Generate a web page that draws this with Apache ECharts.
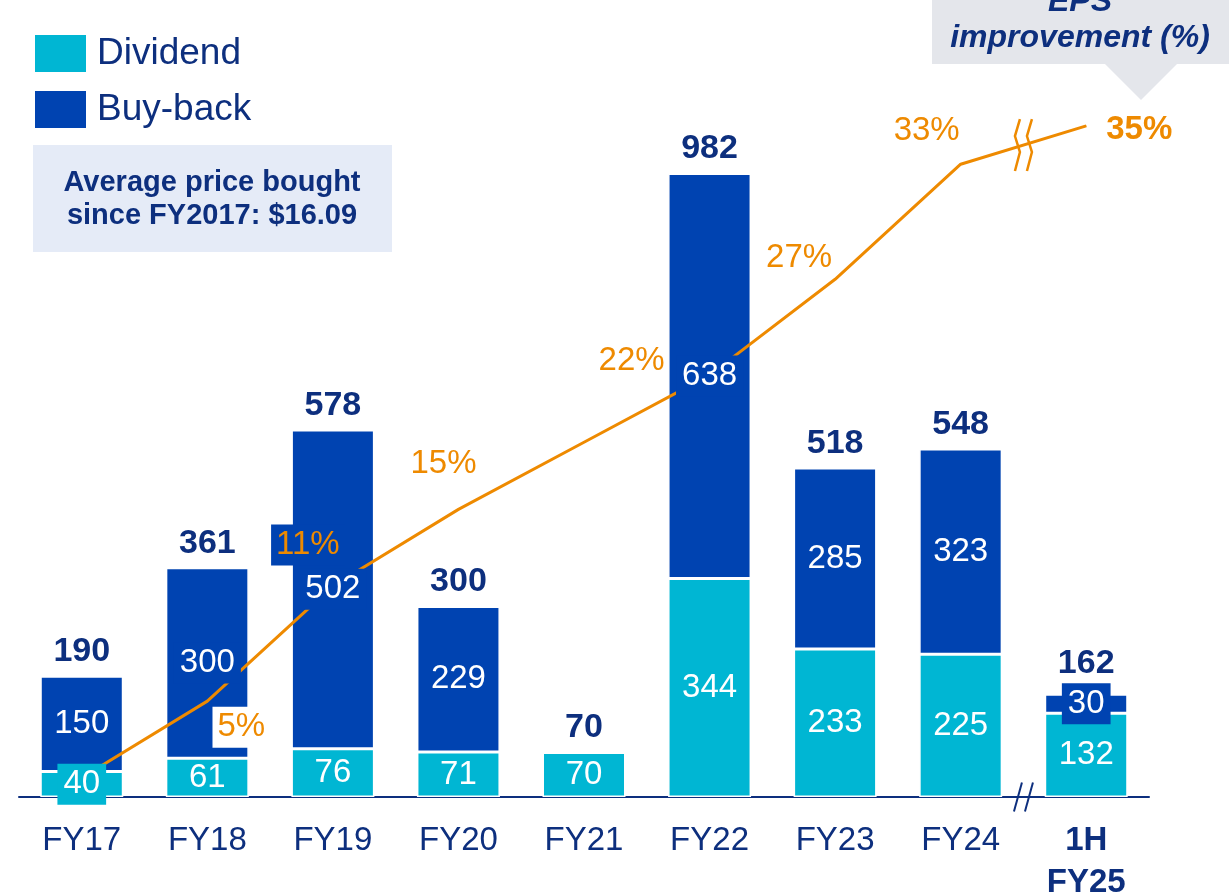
<!DOCTYPE html>
<html>
<head>
<meta charset="utf-8">
<script src="https://cdn.jsdelivr.net/npm/echarts@6/dist/echarts.min.js"></script>
<style>html,body{margin:0;padding:0;background:#fff}#main{width:1229px;height:892px}</style>
</head>
<body>
<div id="main"></div>
<script>
// ---- data ----
const categories = ['FY17','FY18','FY19','FY20','FY21','FY22','FY23','FY24','1H FY25'];
const dividend = [40, 61, 76, 71, 70, 344, 233, 225, 132];
const buyback = [150, 300, 502, 229, 0, 638, 285, 323, 30];
const epsImprovement = [1, 5, 11, 15, 18.5, 22, 27, 33, 35];
const epsLabelShown = [false, true, true, true, false, true, true, true, true];
const legendNames = ['Dividend', 'Buy-back'];
const infoText = 'Average price bought\nsince FY2017: $16.09';
const calloutLines = ['EPS', 'improvement (%)'];

// ---- styles ----
const FONT = '"Liberation Sans", Arial, sans-serif';
const CYAN = '#00B6D3';
const BLUE = '#0043B1';
const NAVY = '#0D2F7E';
const ORANGE = '#EE8A00';
const totals = dividend.map((d, i) => d + buyback[i]);

// label placement styles for the EPS line (offsets from point)
const epsLabelStyle = [
  {},
  {offset: [34, 26], backgroundColor: '#fff', padding: [4, 5]},
  {offset: [-25, -41], backgroundColor: BLUE, padding: [4, 5]},
  {offset: [-15, -45]},
  {},
  {offset: [-78, -14]},
  {offset: [-36, -21]},
  {offset: [-34, -33]},
  {offset: [53, 4], fontWeight: 'bold'}
];
const totalOffset = [0,0,0,0,0,0,0,0,-6];
// which in-bar labels carry a solid backing box
const divLabelBox = [true, false, false, false, false, false, false, false, false];
const bbLabelBox = [false, true, true, false, false, true, false, false, true];

const chart = echarts.init(document.getElementById('main'));

const barW = 83;
const inLabel = (bg, boxed) => ({
  show: true, position: 'inside', color: '#fff', fontSize: 33, fontFamily: FONT,
  backgroundColor: boxed ? bg : 'transparent', padding: [4, 6]
});

const option = {
  animation: false,
  textStyle: {fontFamily: FONT},
  grid: [
    {left: 19, right: 80, top: 162, bottom: 95, outerBoundsMode: 'none', containLabel: false},
    {left: 19, right: 80, top: 30, bottom: 95, outerBoundsMode: 'none', containLabel: false}
  ],
  legend: {
    data: legendNames,
    orient: 'vertical', left: 30, top: 30,
    itemWidth: 51, itemHeight: 37, itemGap: 19,
    icon: 'rect',
    itemStyle: {borderWidth: 0},
    textStyle: {fontSize: 37, color: NAVY, fontFamily: FONT, padding: [0, 0, 0, 6], lineHeight: 37}
  },
  xAxis: [
    {
      type: 'category', data: categories, gridIndex: 0,
      axisLine: {lineStyle: {color: NAVY, width: 2}},
      axisTick: {show: false},
      axisLabel: {
        interval: 0, margin: 23, color: NAVY, fontSize: 33, lineHeight: 42, fontFamily: FONT,
        formatter: (v) => v.indexOf(' ') > 0 ? v.split(' ').map(s => '{b|' + s + '}').join('\n') : v,
        rich: {b: {fontWeight: 'bold', fontSize: 33, color: NAVY, lineHeight: 42, fontFamily: FONT}}
      }
    },
    {type: 'category', data: categories, gridIndex: 1, show: false}
  ],
  yAxis: [
    {type: 'value', gridIndex: 0, min: 0, max: 1000, show: false},
    {type: 'value', gridIndex: 1, min: 0, max: 40, show: false}
  ],
  series: [
    {
      name: 'Dividend', type: 'bar', stack: 'total', barWidth: barW, barGap: '-100%', z: 2,
      itemStyle: {color: CYAN, borderColor: '#fff', borderWidth: 1.5},
      data: dividend
    },
    {
      name: 'Buy-back', type: 'bar', stack: 'total', barWidth: barW, barGap: '-100%', z: 2,
      itemStyle: {color: BLUE, borderColor: '#fff', borderWidth: 1.5},
      data: buyback
    },
    {
      name: 'EPS improvement', type: 'line', xAxisIndex: 1, yAxisIndex: 1, z: 3,
      symbol: 'circle', symbolSize: 1, clip: false,
      itemStyle: {color: ORANGE},
      lineStyle: {color: ORANGE, width: 3},
      data: epsImprovement.map((v, i) => ({
        value: v,
        label: Object.assign({
          show: epsLabelShown[i], position: 'inside', color: ORANGE, fontSize: 33,
          fontFamily: FONT, padding: [3, 4],
          formatter: (p) => p.value + '%'
        }, epsLabelStyle[i])
      }))
    },
    {
      name: 'divLabel', type: 'bar', stack: 'labels', barWidth: barW, barGap: '-100%', z: 4, silent: true,
      itemStyle: {color: 'rgba(0,0,0,0)'},
      data: dividend.map((v, i) => ({value: v, label: inLabel(CYAN, divLabelBox[i])}))
    },
    {
      name: 'bbLabel', type: 'bar', stack: 'labels', barWidth: barW, barGap: '-100%', z: 4, silent: true,
      itemStyle: {color: 'rgba(0,0,0,0)'},
      data: buyback.map((v, i) => ({value: v, label: Object.assign(inLabel(BLUE, bbLabelBox[i]), {show: v > 0})}))
    },
    {
      name: 'totals', type: 'scatter', z: 5, silent: true,
      symbolSize: 1, itemStyle: {color: 'rgba(0,0,0,0)', opacity: 1},
      data: totals.map((v, i) => ({
        value: [i, v],
        label: {show: true, position: 'top', distance: 7, offset: [0, totalOffset[i]],
          color: NAVY, fontSize: 34, fontWeight: 'bold', fontFamily: FONT}
      }))
    }
  ]
};
chart.setOption(option);

// ---- decorations positioned from the chart's own scales ----
const p24 = chart.convertToPixel({gridIndex: 1}, [7, epsImprovement[7]]);
const p25 = chart.convertToPixel({gridIndex: 1}, [8, epsImprovement[8]]);
const xm = (p24[0] + p25[0]) / 2;
const ym = (p24[1] + p25[1]) / 2;
const yb = chart.convertToPixel({gridIndex: 0}, [0, 0])[1];

const zig = (xc) => ({
  type: 'polyline', z: 10,
  shape: {points: [[xc + 2.5, ym - 26], [xc - 2.5, ym - 9], [xc + 2.5, ym + 7], [xc - 2.5, ym + 26]]},
  style: {stroke: ORANGE, lineWidth: 2.5, fill: null}
});
const slash = (xc) => ({
  type: 'line', z: 10,
  shape: {x1: xc + 4, y1: yb - 14.5, x2: xc - 4, y2: yb + 14.5},
  style: {stroke: NAVY, lineWidth: 2}
});

chart.setOption({
  graphic: [
    {type: 'rect', left: 33, top: 145, shape: {width: 359, height: 107}, style: {fill: '#E5EBF7'}, z: 1},
    {type: 'text', x: 212, y: 199.5, z: 2,
      style: {text: infoText, font: 'bold 29px ' + FONT, fill: NAVY, align: 'center', verticalAlign: 'middle', lineHeight: 33}},
    {type: 'rect', shape: {x: 932, y: 0, width: 300, height: 64}, style: {fill: '#E4E6EB'}, z: 1},
    {type: 'polygon', shape: {points: [[1104, 63], [1178, 63], [1141, 100]]}, style: {fill: '#E4E6EB'}, z: 1},
    {type: 'text', x: 1080, y: 2, z: 2,
      style: {text: calloutLines[0], font: 'italic bold 32px ' + FONT, fill: NAVY, align: 'center', verticalAlign: 'middle'}},
    {type: 'text', x: 1080, y: 38, z: 2,
      style: {text: calloutLines[1], font: 'italic bold 32px ' + FONT, fill: NAVY, align: 'center', verticalAlign: 'middle'}},
    zig(xm - 6), zig(xm + 6),
    slash(xm - 5.5), slash(xm + 5.5)
  ]
});
</script>
</body>
</html>
